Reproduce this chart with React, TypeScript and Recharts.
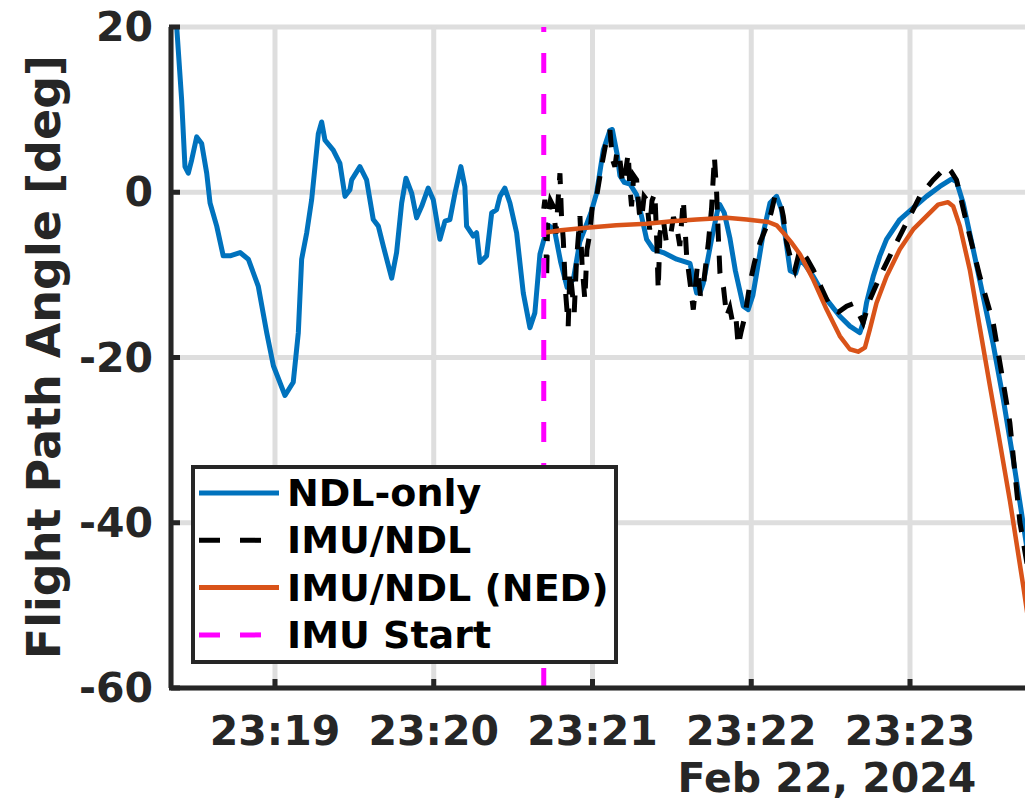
import React from 'react';
import { LineChart, Line, XAxis, YAxis, CartesianGrid, ReferenceLine } from 'recharts';

const FONT = '"DejaVu Sans", "Liberation Sans", sans-serif';
const INK = '#262626';

// time is minutes after 23:00 (Feb 22, 2024), angle in deg
const ndlTime = [
  18.345, 18.381, 18.412, 18.433, 18.454, 18.475, 18.507, 18.538, 18.57, 18.591, 18.633, 18.674, 18.717,
  18.78, 18.832, 18.895, 18.948, 18.99, 19.063, 19.115, 19.147, 19.168, 19.2, 19.231, 19.252, 19.273,
  19.294, 19.315, 19.367, 19.409, 19.441, 19.472, 19.483, 19.535, 19.577, 19.619, 19.651, 19.682, 19.735,
  19.766, 19.798, 19.825, 19.861, 19.892, 19.924, 19.965, 19.997, 20.039, 20.071, 20.102, 20.134, 20.171,
  20.196, 20.207, 20.249, 20.27, 20.291, 20.333, 20.365, 20.396, 20.417, 20.448, 20.48, 20.522, 20.564,
  20.606, 20.637, 20.669, 20.69, 20.721, 20.76, 20.8, 20.84, 20.88, 20.92, 20.96, 20.99, 21.026, 21.068,
  21.11, 21.125, 21.156, 21.173, 21.2, 21.236, 21.278, 21.31, 21.341, 21.383, 21.446, 21.53, 21.614,
  21.656, 21.68, 21.698, 21.75, 21.79, 21.802, 21.83, 21.865, 21.9, 21.95, 21.981, 22.01, 22.034, 22.076,
  22.118, 22.16, 22.191, 22.223, 22.245, 22.28, 22.307, 22.34, 22.391, 22.475, 22.558, 22.621, 22.684,
  22.705, 22.726, 22.768, 22.81, 22.852, 22.936, 23.02, 23.104, 23.188, 23.261, 23.293, 23.335, 23.398,
  23.461, 23.524, 23.587, 23.65, 23.713, 23.8,
];
const ndlAngle = [
  22, 20, 11.2, 3.1, 2.3, 3.9, 6.7, 5.9, 2.3, -1.3, -4.1, -7.7, -7.7,
  -7.3, -8.1, -11.4, -17, -21, -24.6, -23, -17, -8.1, -4.9, -0.9, 3.1, 7.1,
  8.5, 6.3, 5.1, 3.5, -0.5, 0.3, 1.5, 3.1, 1.5, -3.3, -4.1, -6.5, -10.4,
  -7.3, -1.3, 1.7, -0.1, -3.1, -1.7, 0.5, -0.9, -5.7, -3.5, -3.3, -0.1, 3.1,
  0.7, -4.1, -5.3, -4.9, -8.5, -7.7, -2.5, -2.1, -0.5, 0.5, -1.3, -4.9, -12.2,
  -16.4, -14.6, -7.5, -6, -4, -4.5, -8.5, -11.5, -10.5, -6, -4, -2.5, -0.1, 5.1,
  7.5, 7.6, 4.5, 2, 1.2, 1, -0.3, -3, -5.7, -6.9, -7.3, -8.1, -8.6,
  -12.2, -12, -11, -5.7, -2, -1.5, -2.5, -5.5, -9.5, -13.8, -14.2, -12.5, -9.8, -4.9,
  -1.3, -0.5, -2.1, -6.5, -9.5, -9.8, -8.1, -8.8, -10.2, -13, -15, -16.2, -17,
  -15.8, -13.4, -10.2, -7.7, -5.7, -3.3, -1.9, -0.5, 0.7, 1.6, 1.3, -1.3, -6.9,
  -12.6, -18.4, -25, -32.3, -40.1, -51,
];

const imuTime = [
  20.693, 20.7, 20.705, 20.711, 20.718, 20.735, 20.753, 20.77, 20.785, 20.795, 20.805, 20.816, 20.83,
  20.847, 20.858, 20.869, 20.885, 20.9, 20.921, 20.935, 20.952, 20.965, 20.984, 21.0, 21.026, 21.057,
  21.08, 21.11, 21.125, 21.141, 21.155, 21.173, 21.19, 21.204, 21.225, 21.236, 21.246, 21.26, 21.278,
  21.295, 21.309, 21.325, 21.341, 21.36, 21.375, 21.393, 21.405, 21.414, 21.425, 21.446, 21.465, 21.488,
  21.51, 21.53, 21.55, 21.572, 21.585, 21.593, 21.615, 21.635, 21.66, 21.68, 21.698, 21.715, 21.73,
  21.75, 21.768, 21.782, 21.792, 21.803, 21.825, 21.845, 21.865, 21.887, 21.905, 21.918, 21.935, 21.96,
  21.992, 22.02, 22.055, 22.097, 22.125, 22.149, 22.18, 22.202, 22.223, 22.244, 22.275, 22.307, 22.35,
  22.391, 22.44, 22.496, 22.55, 22.601, 22.64, 22.664, 22.705, 22.747, 22.81, 22.894, 22.978, 23.062,
  23.146, 23.23, 23.26, 23.293, 23.356, 23.44, 23.524, 23.587, 23.629, 23.692, 23.8,
];
const imuAngle = [
  -2, -0.9, -3.5, -10.6, -3, -1, -1.7, -5, -0.5, 2.3, -3, -5.7, -12,
  -16.2, -9.5, -11.4, -14.5, -8, -2.9, -9, -13, -7, -4.9, -1.5, -0.5, 3.1,
  5.5, 7.5, 4, 3.1, 5, 3.9, 1, 1.9, 4.7, 0.5, -1.7, 2, 1.5,
  -2.5, -3.3, -0.5, -0.9, -4.5, -1, -0.1, -6, -11.8, -5, -3.3, -6, -5.7,
  -3, -4.1, -6.5, -0.9, -5, -7.7, -11, -14.2, -9, -12.5, -11.4, -8.5, -6.1,
  -2, 4.3, -0.1, -5, -9.8, -11.5, -15, -14, -16.2, -15.5, -18.6, -17, -15,
  -11, -8.5, -6.1, -4.1, -2.5, -0.5, -0.9, -2.9, -6.1, -7.7, -9.4, -6.9, -8,
  -9.4, -11.5, -13.8, -14.5, -13.8, -13.5, -14.2, -15.8, -13, -10.2, -6.9, -3.7, -0.5,
  1.5, 3.1, 2.5, 1.5, -3.7, -10.2, -15.8, -23, -27.9, -39.9, -52,
];

const nedTime = [
  20.693, 20.8, 20.963, 21.15, 21.341, 21.5, 21.656, 21.845, 21.971, 22.107, 22.16, 22.202, 22.25,
  22.307, 22.391, 22.475, 22.558, 22.621, 22.673, 22.716, 22.747, 22.789, 22.852, 22.936, 23.02, 23.104,
  23.177, 23.24, 23.272, 23.314, 23.377, 23.44, 23.503, 23.56, 23.63, 23.713, 23.8,
];
const nedAngle = [
  -4.9, -4.6, -4.3, -4, -3.8, -3.5, -3.3, -3.1, -3.3, -3.6, -4, -4.9, -6,
  -7.5, -10.6, -14.2, -17.4, -19, -19.3, -18.8, -16.6, -13.4, -10.2, -6.9, -4.5, -2.9,
  -1.5, -1.2, -1.7, -4.1, -9.4, -16.4, -23.4, -29.6, -37.4, -47.6, -59,
];

const imuStart = 20.693;
const xTicks = [19, 20, 21, 22, 23];
const yTicks = [-60, -40, -20, 0, 20];
const legendItems = [
  { name: 'NDL-only', color: '#0072BD', dash: '' },
  { name: 'IMU/NDL', color: '#000000', dash: '21 20' },
  { name: 'IMU/NDL (NED)', color: '#D95319', dash: '' },
  { name: 'IMU Start', color: '#FF00FF', dash: '21 20' },
];

const toRows = (t: number[], v: number[]) => t.map((x, i) => ({ t: x, v: v[i] }));

const YTick = ({ x, y, payload }: any) => (
  <g>
    <line x1={x} x2={x + 11} y1={y} y2={y} stroke={INK} strokeWidth={5} />
    <text x={x - 16} y={y} textAnchor="end" dominantBaseline="central" fill={INK}
      fontFamily={FONT} fontWeight="bold" fontSize={41}>
      {payload.value}
    </text>
  </g>
);

const XTick = ({ x, y, payload }: any) => (
  <g>
    <line x1={x} x2={x} y1={y} y2={y - 11} stroke={INK} strokeWidth={5} />
    <text x={x} y={y + 55} textAnchor="middle" fill={INK}
      fontFamily={FONT} fontWeight="bold" fontSize={41}>
      {`23:${payload.value}`}
    </text>
  </g>
);

export default function App() {
  return (
    <div style={{ position: 'absolute', left: 0, top: 0, width: 1025, height: 802, overflow: 'hidden', background: '#fff' }}>
      <LineChart width={1037} height={802} margin={{ top: 27, right: 0, bottom: 0, left: 0 }}>
        <CartesianGrid stroke="#dedede" strokeWidth={5} />
        <XAxis
          type="number"
          dataKey="t"
          domain={[18.345, 23.8]}
          ticks={xTicks}
          allowDataOverflow
          height={114}
          tickLine={false}
          tickSize={0}
          axisLine={{ stroke: INK, strokeWidth: 5 }}
          tick={<XTick />}
          label={() => (
            <text x={827} y={792} textAnchor="middle" fill={INK} fontFamily={FONT} fontWeight="bold" fontSize={41}>
              Feb 22, 2024
            </text>
          )}
        />
        <YAxis
          type="number"
          dataKey="v"
          domain={[-60, 20]}
          ticks={yTicks}
          allowDataOverflow
          width={171}
          tickLine={false}
          tickSize={0}
          axisLine={{ stroke: INK, strokeWidth: 5 }}
          tick={<YTick />}
          label={() => (
            <text x={60} y={357} transform="rotate(-90, 60, 357)" textAnchor="middle" fill={INK}
              fontFamily={FONT} fontWeight="bold" fontSize={46}>
              Flight Path Angle [deg]
            </text>
          )}
        />
        <Line data={toRows(ndlTime, ndlAngle)} dataKey="v" stroke="#0072BD" strokeWidth={5}
          dot={false} isAnimationActive={false} strokeLinejoin="round" />
        <Line data={toRows(imuTime, imuAngle)} dataKey="v" stroke="#000000" strokeWidth={5}
          strokeDasharray="18 14" dot={false} isAnimationActive={false} />
        <Line data={toRows(nedTime, nedAngle)} dataKey="v" stroke="#D95319" strokeWidth={4.5}
          dot={false} isAnimationActive={false} strokeLinejoin="round" />
        <ReferenceLine x={imuStart} stroke="#FF00FF" strokeWidth={5} strokeDasharray="20 21" />
      </LineChart>

      {/* Legend */}
      <svg style={{ position: 'absolute', left: 191, top: 465 }} width={427} height={199}>
        <rect x={2} y={2} width={423} height={195} fill="#fff" stroke={INK} strokeWidth={4} />
        {legendItems.map((item, i) => {
          const cy = 28 + i * 47.3;
          return (
            <g key={item.name}>
              <line x1={8} x2={88} y1={cy} y2={cy} stroke={item.color} strokeWidth={5}
                strokeDasharray={item.dash || undefined} />
              <text x={96} y={cy} dominantBaseline="central" fill="#000"
                fontFamily={FONT} fontWeight="bold" fontSize={38}>
                {item.name}
              </text>
            </g>
          );
        })}
      </svg>
    </div>
  );
}
